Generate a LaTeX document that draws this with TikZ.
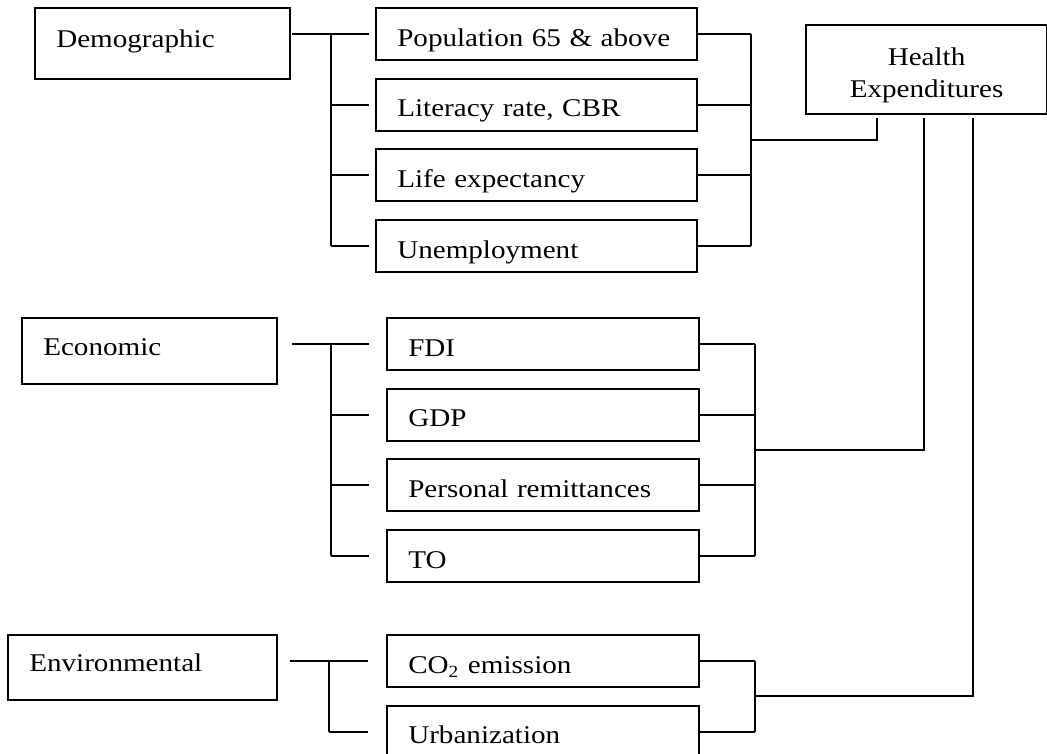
\documentclass[tikz,border=0pt]{standalone}
\usepackage{fontspec}
\setmainfont{Liberation Serif}[FakeStretch=1.14]
\usetikzlibrary{positioning,calc}

\begin{document}
\begin{tikzpicture}[%
    x=0.47pt, y=-0.47pt,        % one unit is one pixel of the scan, y runs down
    node distance=8.8pt,        % gap between stacked factor boxes
    font=\fontsize{12}{15}\selectfont,
    ]
% -------------------------------------------------
% A few box styles
\tikzset{
  base/.style={draw, line width=0.9pt, outer sep=0pt, inner xsep=10pt, align=left},
  group/.style={base, anchor=north west, text height=7pt, text depth=3pt},
  factor/.style={base, text width=130.9pt, minimum height=24.4pt,
                 text height=11.5pt, text depth=0pt},
  narrow/.style={text width=126.6pt},
  target/.style={base, anchor=north west, align=center, text width=93.3pt,
                 text depth=12pt, minimum height=41.8pt},
  % Connector line style
  wire/.style={draw, line width=0.9pt}
}
\useasboundingbox (0,0) rectangle (1047,753);
% -------------------------------------------------
% Start by placing the nodes
\node [group, text width=99.9pt, minimum height=33.4pt] (demo) at (35,8) {Demographic};
\node [factor, anchor=north west] (pop) at (376,8) {Population 65 \& above};
\node [factor, below=of pop] (lit) {Literacy rate, CBR};
\node [factor, below=of lit] (life) {Life expectancy};
\node [factor, below=of life] (unemp) {Unemployment};

\node [group, text width=99.9pt, minimum height=31pt] (econ) at (22,318) {Economic};
\node [factor, narrow, anchor=north west] (fdi) at (387,318) {FDI};
\node [factor, narrow, below=of fdi] (gdp) {GDP};
\node [factor, narrow, below=of gdp] (remit) {Personal remittances};
\node [factor, narrow, below=of remit] (trade) {TO};

\node [group, text width=106.4pt, minimum height=30.6pt] (env) at (8,635) {Environmental};
\node [factor, narrow, anchor=north west] (co2) at (387,635) {CO\textsubscript{2} emission};
\node [factor, narrow, below=of co2] (urban) {Urbanization};

\node [target] (health) at (806,25) {Health\\Expenditures};

% trunks and entry points
\coordinate (dl) at (331,0);
\coordinate (dr) at (751,0);
\coordinate (el) at (331,0);
\coordinate (er) at (755,0);
\coordinate (vl) at (329,0);
\coordinate (vr) at (755,0);
\coordinate (hd) at ([xshift=33.4pt, yshift=-1.9pt]health.south west);
\coordinate (he) at ([xshift=55.5pt, yshift=-1.9pt]health.south west);
\coordinate (hv) at ([xshift=78.5pt, yshift=-1.9pt]health.south west);

% -------------------------------------------------
% Demographic
\draw [wire, shorten <=1pt, shorten >=3.3pt] (demo.east |- pop.west) -- (pop.west);
\draw [wire] (dl |- pop.west) -- (dl |- unemp.west);
\foreach \n in {lit,life,unemp}
  \draw [wire, shorten >=3.3pt] (dl |- \n.west) -- (\n.west);
\foreach \n in {pop,lit,life,unemp}
  \draw [wire] (\n.east) -- (dr |- \n.east);
\draw [wire] (dr |- pop.east) -- (dr |- unemp.east);
\draw [wire] ($(dr |- lit.east)!0.5!(dr |- life.east)$) -| (hd);

% Economic
\draw [wire, shorten <=7pt, shorten >=8.5pt] (econ.east |- fdi.west) -- (fdi.west);
\draw [wire] (el |- fdi.west) -- (el |- trade.west);
\foreach \n in {gdp,remit,trade}
  \draw [wire, shorten >=8.5pt] (el |- \n.west) -- (\n.west);
\foreach \n in {fdi,gdp,remit,trade}
  \draw [wire] (\n.east) -- (er |- \n.east);
\draw [wire] (er |- fdi.east) -- (er |- trade.east);
\draw [wire] ($(er |- gdp.east)!0.5!(er |- remit.east)$) -| (he);

% Environmental
\draw [wire, shorten <=6pt, shorten >=9pt] (env.east |- co2.west) -- (co2.west);
\draw [wire] (vl |- co2.west) -- (vl |- urban.west);
\draw [wire, shorten >=9pt] (vl |- urban.west) -- (urban.west);
\foreach \n in {co2,urban}
  \draw [wire] (\n.east) -- (vr |- \n.east);
\draw [wire] (vr |- co2.east) -- (vr |- urban.east);
\draw [wire] ($(vr |- co2.east)!0.5!(vr |- urban.east)$) -| (hv);

% -------------------------------------------------
\end{tikzpicture}
\end{document}
